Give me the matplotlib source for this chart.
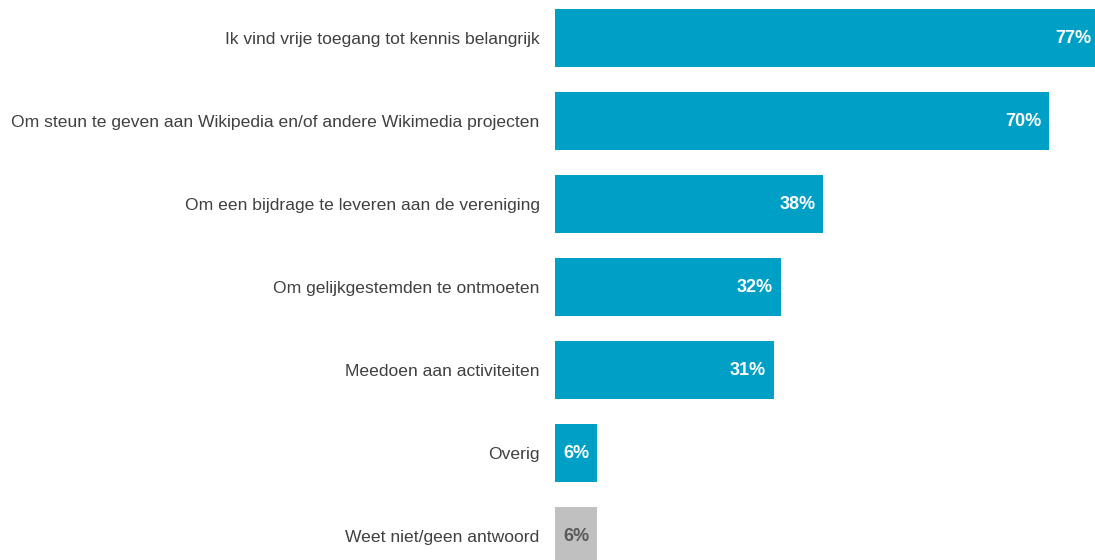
"""
Horizontal bar chart: reasons for membership.
"""

import matplotlib
matplotlib.use("Agg")
import matplotlib.pyplot as plt

categories = [
    "Ik vind vrije toegang tot kennis belangrijk",
    "Om steun te geven aan Wikipedia en/of andere Wikimedia projecten",
    "Om een bijdrage te leveren aan de vereniging",
    "Om gelijkgestemden te ontmoeten",
    "Meedoen aan activiteiten",
    "Overig",
    "Weet niet/geen antwoord",
]
values = [77, 70, 38, 32, 31, 6, 6]
value_labels = ["77%", "70%", "38%", "32%", "31%", "6%", "6%"]

BLUE = "#00A0C6"
GREY = "#C0C0C0"

plt.rcParams['font.family'] = ['Liberation Sans', 'DejaVu Sans']

fig = plt.figure(figsize=(10.95, 5.6), dpi=100)
ax = fig.add_axes([555 / 1095, 0, 1 - 555 / 1095, 1])

colors = [BLUE] * (len(values) - 1) + [GREY]
pos = list(range(len(values)))
bars = ax.barh(pos, values, height=0.70, color=colors)

for bar, lab, col in zip(bars, value_labels, colors):
    txt_color = "white" if col == BLUE else "#595959"
    ax.annotate(lab, (bar.get_width(), bar.get_y() + bar.get_height() / 2),
                xytext=(-5.5, 0), textcoords="offset points",
                ha="right", va="center", fontsize=13, fontweight="bold",
                color=txt_color, annotation_clip=False)

ax.set_xlim(0, 76.5)
ax.set_ylim(6.289, -0.458)
ax.set_yticks(pos)
ax.set_yticklabels(categories, fontsize=12.6, color="#404040")
ax.tick_params(axis="y", length=0, pad=11)
ax.set_xticks([])
for s in ax.spines.values():
    s.set_visible(False)

fig.savefig("out.png", dpi=100)
